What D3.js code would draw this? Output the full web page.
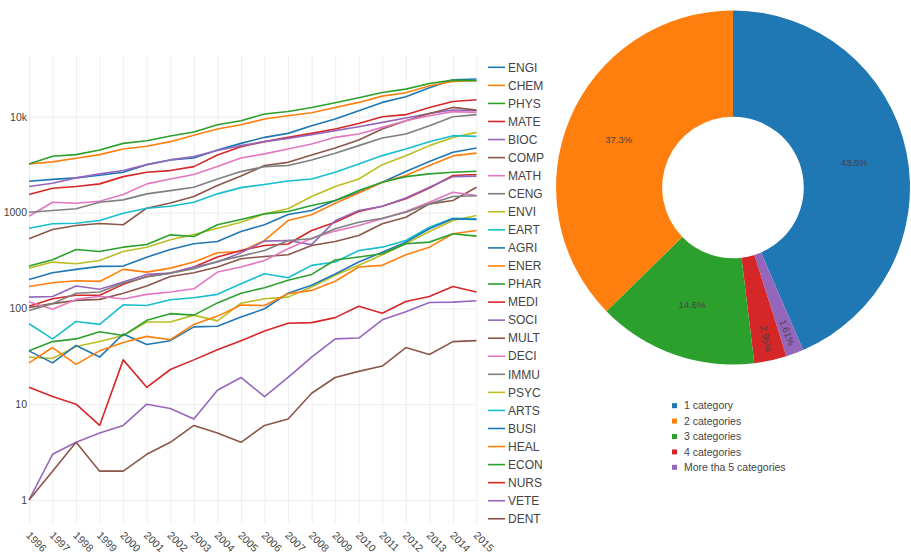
<!DOCTYPE html>
<html>
<head>
<meta charset="utf-8">
<script src="https://cdn.jsdelivr.net/npm/d3@7"></script>
<style>
    body { margin: 0; background: #fff; }
    svg { display: block; font-family: "Liberation Sans", Arial, sans-serif; }
</style>
</head>
<body>
<svg id="chart" width="911" height="556"></svg>
<script>
// years on the x axis
const years = d3.range(1996, 2016)
const yTicks = [1, 10, 100, 1000, 10000]

// documents per subject area and year
const ENGI = [2120, 2220, 2300, 2450, 2630, 3160, 3540, 3710, 4500, 5270, 6090, 6700, 8060, 9460, 11550, 14100, 16150, 20000, 24300, 24700]
const CHEM = [3215, 3375, 3680, 4020, 4610, 4910, 5490, 6390, 7450, 8250, 9460, 10240, 11000, 12500, 14100, 16400, 17800, 21000, 23300, 23700]
const PHYS = [3215, 3860, 4020, 4500, 5270, 5620, 6300, 6920, 8250, 9090, 10660, 11350, 12500, 14000, 15780, 17900, 19400, 22200, 24100, 23700]
const MATE = [1540, 1790, 1866, 1990, 2370, 2630, 2740, 3015, 3990, 4870, 5490, 6090, 6700, 7450, 8510, 10000, 10500, 12500, 14430, 15000]
const BIOC = [1866, 2020, 2300, 2530, 2740, 3160, 3540, 3830, 4430, 4990, 5490, 5940, 6490, 7150, 7870, 8730, 9680, 10820, 11740, 11550]
const COMP = [532, 665, 732, 768, 745, 1110, 1260, 1470, 1910, 2400, 3090, 3340, 3990, 4720, 5710, 7450, 9090, 10820, 12500, 11700]
const MATH = [915, 1280, 1250, 1312, 1540, 1990, 2240, 2490, 3015, 3710, 4090, 4610, 5200, 6090, 6610, 7740, 9090, 10240, 11300, 11090]
const CENG = [1007, 1049, 1093, 1280, 1356, 1566, 1694, 1835, 2240, 2673, 3015, 3090, 3540, 4150, 4990, 6000, 6610, 8060, 10000, 10500]
const ENVI = [263, 304, 292, 316, 392, 435, 520, 590, 686, 793, 969, 1093, 1468, 1866, 2240, 3160, 3920, 4990, 6080, 6860]
const EART = [686, 763, 774, 825, 984, 1110, 1163, 1280, 1566, 1820, 1958, 2130, 2240, 2630, 3215, 3925, 4610, 5490, 6340, 6240]
const AGRI = [200, 235, 255, 274, 276, 342, 412, 472, 499, 634, 745, 953, 1049, 1334, 1630, 2070, 2680, 3400, 4250, 4720]
const ENER = [169, 185, 194, 191, 255, 239, 263, 304, 380, 392, 511, 825, 946, 1250, 1596, 2070, 2430, 3090, 3900, 4170]
const PHAR = [276, 321, 412, 392, 435, 464, 585, 562, 745, 845, 969, 1024, 1183, 1334, 1694, 2070, 2370, 2530, 2630, 2700]
const MEDI = [105, 126, 137, 137, 178, 215, 232, 270, 343, 402, 453, 470, 650, 793, 1024, 1164, 1390, 1800, 2430, 2490]
const SOCI = [131, 133, 171, 158, 188, 226, 233, 270, 304, 380, 503, 511, 462, 820, 1049, 1164, 1420, 1835, 2370, 2400]
const MULT = [102, 112, 121, 124, 144, 171, 215, 235, 270, 329, 348, 362, 453, 499, 576, 762, 894, 1231, 1334, 1835]
const DECI = [117, 98, 124, 134, 125, 140, 148, 160, 239, 270, 316, 418, 540, 640, 732, 859, 1024, 1282, 1630, 1500]
const IMMU = [95, 112, 144, 148, 184, 212, 233, 259, 309, 351, 402, 511, 532, 676, 793, 873, 1008, 1231, 1470, 1495]
const PSYC = [31, 30, 40, 45, 52, 72, 72, 85, 74, 113, 126, 131, 167, 221, 281, 362, 472, 634, 825, 931]
const ARTS = [69, 48, 73, 68, 109, 107, 123, 129, 140, 181, 230, 209, 281, 304, 402, 435, 511, 703, 870, 860]
const BUSI = [36, 27, 41, 31, 54, 42, 46, 64, 65, 81, 99, 144, 174, 228, 304, 386, 491, 676, 859, 845]
const HEAL = [27, 39, 26, 36, 44, 51, 47, 68, 83, 108, 107, 142, 154, 192, 270, 281, 362, 435, 600, 649]
const ECON = [36, 45, 48, 57, 52, 75, 88, 85, 114, 144, 164, 196, 226, 320, 343, 371, 472, 491, 600, 567]
const NURS = [15, 12, 10, 6, 29, 15, 23, 29, 37, 46, 58, 70, 71, 80, 105, 89, 118, 133, 169, 148]
const VETE = [1, 3, 4, 5, 6, 10, 9, 7, 14, 19, 12, 19, 31, 48, 49, 76, 92, 115, 116, 120]
const DENT = [1, 2, 4, 2, 2, 3, 4, 6, 5, 4, 6, 7, 13, 19, 22, 25, 39, 33, 45, 46]

const seriesNames = ["ENGI", "CHEM", "PHYS", "MATE", "BIOC", "COMP", "MATH", "CENG", "ENVI", "EART",
    "AGRI", "ENER", "PHAR", "MEDI", "SOCI", "MULT", "DECI", "IMMU", "PSYC", "ARTS",
    "BUSI", "HEAL", "ECON", "NURS", "VETE", "DENT"]
const seriesValues = [ENGI, CHEM, PHYS, MATE, BIOC, COMP, MATH, CENG, ENVI, EART,
    AGRI, ENER, PHAR, MEDI, SOCI, MULT, DECI, IMMU, PSYC, ARTS,
    BUSI, HEAL, ECON, NURS, VETE, DENT]

// donut: share of documents by number of categories
const pieLabels = ["1 category", "2 categories", "3 categories", "4 categories", "More tha 5 categories"]
const pieShares = [43.5, 37.3, 14.6, 2.95, 1.61]
const pieText = ["43.5%", "37.3%", "14.6%", "2.95%", "1.61%"]

const colors = d3.schemeCategory10
const svg = d3.select("#chart")

// ---------- line chart ----------
let plot = {left: 29, right: 476.5, top: 55, bottom: 523}
let x = d3.scaleLinear()
    .domain([1996, 2015])
    .range([plot.left, plot.right])
let y = d3.scaleLog()
    .domain([1, 10000])
    .range([500, 116.7])

let xAxis = g => g
    .attr("transform", `translate(0,${plot.bottom})`)
    .call(d3.axisBottom(x).tickValues(years).tickFormat(d3.format("d"))
        .tickSize(-(plot.bottom - plot.top)).tickPadding(0))
    .call(g => g.select(".domain").remove())
    .call(g => g.selectAll(".tick line").attr("stroke", "#eee"))
    .call(g => g.selectAll(".tick text")
        .attr("fill", "#444")
        .attr("text-anchor", "start")
        .attr("dy", null)
        .attr("y", null)
        .attr("transform", "translate(-4,13) rotate(45)"))

let yAxis = g => g
    .attr("transform", `translate(${plot.left},0)`)
    .call(d3.axisLeft(y).tickValues(yTicks)
        .tickFormat(d => d >= 10000 ? d / 1000 + "k" : d)
        .tickSize(-(plot.right - plot.left)).tickPadding(2))
    .call(g => g.select(".domain").remove())
    .call(g => g.selectAll(".tick line").attr("stroke", "#eee"))
    .call(g => g.selectAll(".tick text").attr("fill", "#444"))

svg.append("g").call(xAxis).attr("font-size", 10.5).attr("font-family", null)
svg.append("g").call(yAxis).attr("font-size", 10.5).attr("font-family", null)

let line = d3.line()
    .x((d, i) => x(years[i]))
    .y(d => y(d))

svg.append("g")
    .selectAll("path")
    .data(seriesValues)
    .join("path")
    .attr("fill", "none")
    .attr("stroke", (d, i) => colors[i % 10])
    .attr("stroke-width", 1.6)
    .attr("stroke-linejoin", "round")
    .attr("d", line)

// legend of the lines
let legend = svg.append("g")
    .attr("font-size", 12)
    .selectAll("g")
    .data(seriesNames)
    .join("g")
    .attr("transform", (d, i) => `translate(488,${67.3 + i * 18.06})`)
legend.append("line")
    .attr("x1", 0).attr("x2", 17)
    .attr("stroke", (d, i) => colors[i % 10])
    .attr("stroke-width", 1.6)
legend.append("text")
    .attr("x", 20)
    .attr("dy", "0.35em")
    .attr("fill", "#444")
    .text(d => d)

// ---------- donut ----------
let cx = 733, cy = 187.5
let outer = 177, inner = outer * 0.4
// slices run clockwise from 12 o'clock: 1, 5+, 4, 3, 2 categories
let pieOrder = [0, 4, 3, 2, 1]
let pie = d3.pie().sort(null).value(i => pieShares[i])
let arcs = pie(pieOrder)
let arc = d3.arc().innerRadius(inner).outerRadius(outer)

let donut = svg.append("g").attr("transform", `translate(${cx},${cy})`)
donut.selectAll("path")
    .data(arcs)
    .join("path")
    .attr("fill", d => colors[d.data])
    .attr("stroke", "#fff")
    .attr("stroke-width", 0)
    .attr("d", arc)

donut.selectAll("text")
    .data(arcs)
    .join("text")
    .attr("font-size", 9.5)
    .attr("fill", "#444")
    .attr("text-anchor", "middle")
    .attr("dy", "0.35em")
    .attr("transform", d => {
        let a = (d.startAngle + d.endAngle) / 2
        if (d.endAngle - d.startAngle < 0.3) {
            // narrow slice: text turned along the radius
            let r = (inner + outer) / 2 + 31
            return `translate(${Math.sin(a) * r},${-Math.cos(a) * r}) rotate(${a * 180 / Math.PI - 90})`
        }
        let c = arc.centroid(d)
        return `translate(${c[0]},${c[1]})`
    })
    .text(d => pieText[d.data])

// legend of the donut
let pieLegend = svg.append("g")
    .attr("font-size", 10.5)
    .selectAll("g")
    .data(pieLabels)
    .join("g")
    .attr("transform", (d, i) => `translate(672,${405.7 + i * 15.4})`)
pieLegend.append("rect")
    .attr("x", 0).attr("y", -2.5)
    .attr("width", 5).attr("height", 5)
    .attr("fill", (d, i) => colors[i])
pieLegend.append("text")
    .attr("x", 12)
    .attr("dy", "0.35em")
    .attr("fill", "#444")
    .text(d => d)
</script>
</body>
</html>
